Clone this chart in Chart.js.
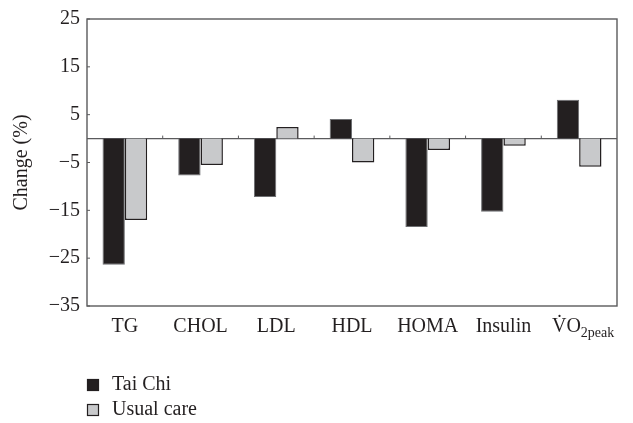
<!DOCTYPE html>
<html>
<head>
<meta charset="utf-8">
<script src="https://cdn.jsdelivr.net/npm/chart.js@4"></script>
<style>
  html, body { margin: 0; padding: 0; background: #fff; }
  #wrap { width: 633px; height: 423px; position: relative; }
</style>
</head>
<body>
<div id="wrap"><canvas id="c" width="633" height="423"></canvas></div>
<script>
const categories = ['TG', 'CHOL', 'LDL', 'HDL', 'HOMA', 'Insulin', 'VO2peak'];
const taiChi = [-26.4, -7.7, -12.2, 4.1, -18.5, -15.3, 8.1];
const usualCare = [-17.0, -5.5, 2.4, -5.0, -2.4, -1.5, -5.9];
const yTicks = [-35, -25, -15, -5, 5, 15, 25];
const seriesNames = ['Tai Chi', 'Usual care'];

const FONT = '"Liberation Serif", "DejaVu Serif", serif';
const TXT = '#231f20';
const AXIS = '#5a5a5c';
const C_TC = '#231f20';
const C_UC = '#c8c9cb';

const decor = {
  id: 'decor',
  beforeDatasetsDraw(chart) {
    const { ctx, chartArea: a, scales } = chart;
    const y = scales.y, x = scales.x;
    ctx.save();
    ctx.strokeStyle = AXIS;
    ctx.lineWidth = 1.3;
    const y0 = y.getPixelForValue(0);
    ctx.beginPath();
    ctx.moveTo(a.left, y0); ctx.lineTo(a.right, y0);
    ctx.stroke();
    ctx.lineWidth = 1;
    for (let i = 1; i < categories.length; i++) {
      const px = (x.getPixelForValue(i - 1) + x.getPixelForValue(i)) / 2;
      ctx.beginPath();
      ctx.moveTo(px, y0); ctx.lineTo(px, y0 - 3);
      ctx.stroke();
    }
    yTicks.forEach(v => {
      const py = y.getPixelForValue(v);
      ctx.beginPath();
      ctx.moveTo(a.left, py); ctx.lineTo(a.left + 3, py);
      ctx.stroke();
    });
    ctx.restore();
  },
  afterDraw(chart) {
    const { ctx, chartArea: a, scales } = chart;
    const x = scales.x;
    ctx.save();
    ctx.strokeStyle = AXIS;
    ctx.lineWidth = 1.4;
    ctx.strokeRect(a.left, a.top, a.right - a.left, a.bottom - a.top);
    const i = categories.length - 1;
    const cx = x.getPixelForValue(i);
    const ly = 327;
    ctx.fillStyle = TXT;
    ctx.textBaseline = 'middle';
    ctx.font = '20px ' + FONT;
    const main = 'V\u0307O';
    const mainW = ctx.measureText('VO').width;
    ctx.font = '14px ' + FONT;
    const sub = '2peak';
    const subW = ctx.measureText(sub).width;
    const start = cx - (mainW + subW) / 2 + 4;
    ctx.font = '20px ' + FONT;
    ctx.textAlign = 'left';
    ctx.fillText(main, start, ly);
    ctx.font = '14px ' + FONT;
    ctx.fillText(sub, start + mainW, ly + 6);
    const colors = [C_TC, C_UC];
    const ys = [385, 410];
    ctx.font = '20px ' + FONT;
    seriesNames.forEach((name, k) => {
      const bx = a.left, by = ys[k] - 6;
      ctx.fillStyle = colors[k];
      ctx.fillRect(bx, by, 12, 12);
      ctx.strokeStyle = '#231f20';
      ctx.lineWidth = 1.2;
      ctx.strokeRect(bx + 0.5, by + 0.5, 11, 11);
      ctx.fillStyle = TXT;
      ctx.textBaseline = 'middle';
      ctx.fillText(name, a.left + 25, ys[k]);
    });
    ctx.restore();
  }
};

new Chart(document.getElementById('c'), {
  type: 'bar',
  data: {
    labels: categories,
    datasets: [
      { label: seriesNames[0], data: taiChi, backgroundColor: C_TC, borderColor: '#6d6e71', borderWidth: 1,
        categoryPercentage: 0.59, barPercentage: 1.0 },
      { label: seriesNames[1], data: usualCare, backgroundColor: C_UC, borderColor: '#231f20', borderWidth: 1.5,
        categoryPercentage: 0.59, barPercentage: 1.0 }
    ]
  },
  options: {
    responsive: false,
    animation: false,
    devicePixelRatio: 1,
    layout: { padding: { top: 15, right: 16, left: 0, bottom: 0 } },
    plugins: { legend: { display: false }, tooltip: { enabled: false } },
    scales: {
      x: {
        grid: { display: false, drawTicks: false },
        border: { display: false },
        ticks: {
          color: TXT, font: { family: FONT, size: 20 }, padding: 9, maxRotation: 0, autoSkip: false,
          callback: (v, i) => i === categories.length - 1 ? '' : categories[i]
        },
        afterFit: s => { s.height = 117; }
      },
      y: {
        min: -35, max: 25,
        afterBuildTicks: s => { s.ticks = yTicks.map(v => ({ value: v })); },
        grid: { display: false, drawTicks: false },
        border: { display: false },
        ticks: {
          color: TXT, font: { family: FONT, size: 20 }, padding: 7,
          callback: v => (v < 0 ? '\u2212' + Math.abs(v) : String(v))
        },
        title: { display: true, text: 'Change (%)', color: TXT, font: { family: FONT, size: 20 }, padding: { top: 10, bottom: 0 } },
        afterFit: s => { s.width = 87; }
      }
    }
  },
  plugins: [decor]
});
</script>
</body>
</html>
